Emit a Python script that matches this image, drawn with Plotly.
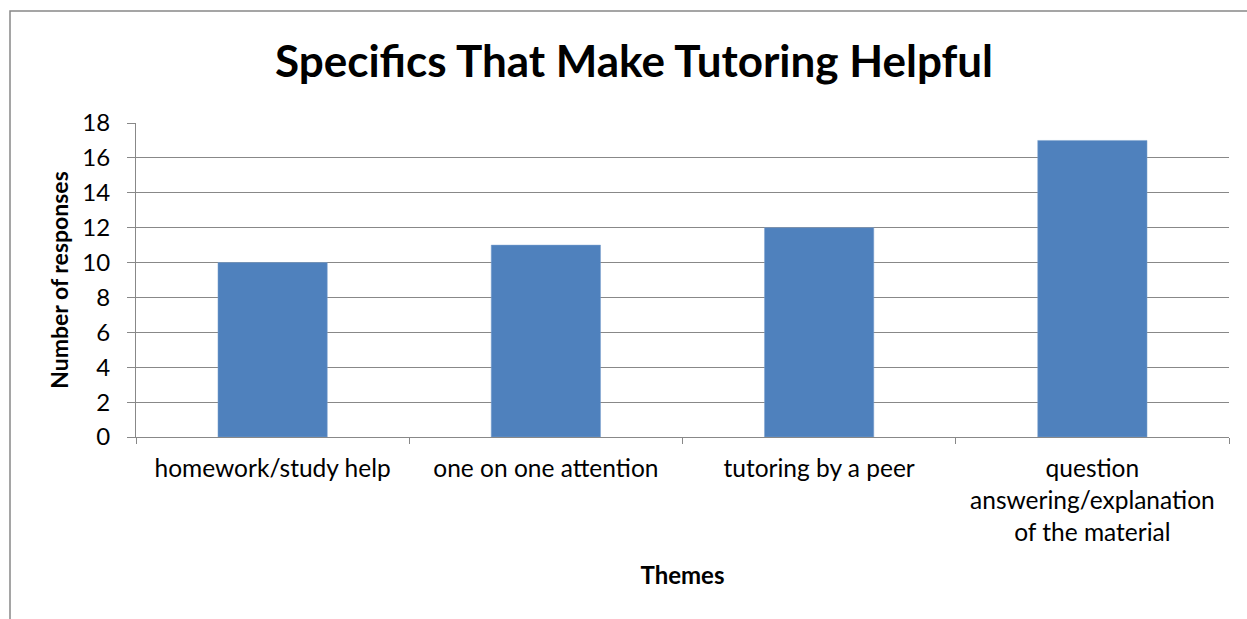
import plotly.graph_objects as go

categories = [
    "homework/study help",
    "one on one attention",
    "tutoring by a peer",
    "question<br>answering/explanation<br>of the material",
]
responses = [10, 11, 12, 17]
y_ticks = [0, 2, 4, 6, 8, 10, 12, 14, 16, 18]

FONT = "Lato"
W, H = 1247, 619
L, R, T, B = 136, 18, 123, 182

fig = go.Figure(
    go.Bar(
        x=categories,
        y=responses,
        width=0.4,
        marker=dict(color="#4F81BD", line=dict(color="#7FA3CF", width=0.5)),
    )
)

pw = W - L - R
ph = H - T - B

fig.update_layout(
    width=W,
    height=H,
    margin=dict(l=L, r=R, t=T, b=B),
    paper_bgcolor="white",
    plot_bgcolor="white",
    showlegend=False,
    font=dict(family=FONT, color="black"),
    title=dict(
        text="<b>Specifics That Make Tutoring Helpful</b>",
        font=dict(family=FONT, size=44, color="black"),
        xref="container", x=634 / W, xanchor="center",
        yref="container", y=1 - 62 / H, yanchor="middle",
    ),
    xaxis=dict(
        type="category",
        showline=True, linecolor="#888888", linewidth=1,
        ticks="outside", tickson="boundaries", ticklen=6, tickcolor="#888888",
        showgrid=False,
        tickfont=dict(family=FONT, size=24.5),
        ticklabelstandoff=10,
        title=dict(text="<b>Themes</b>", font=dict(family=FONT, size=24), standoff=22),
    ),
    yaxis=dict(
        range=[0, 18],
        tickvals=y_ticks,
        showline=True, linecolor="#888888", linewidth=1,
        ticks="outside", ticklen=8, tickcolor="#888888",
        showgrid=True, gridcolor="#888888", gridwidth=1,
        zeroline=False,
        tickfont=dict(family=FONT, size=24),
        ticklabelstandoff=12,
        title=dict(text="<b>Number of responses</b>", font=dict(family=FONT, size=23), standoff=7),
    ),
    shapes=[
        dict(
            type="rect", xref="paper", yref="paper",
            x0=(10 - L) / pw, x1=(W + 5 - L) / pw,
            y0=(H - 11 - B) / ph, y1=-(B + 10) / ph,
            line=dict(color="#888888", width=1.5), fillcolor="rgba(0,0,0,0)",
            layer="below",
        )
    ],
)

fig.write_html("out.html")
